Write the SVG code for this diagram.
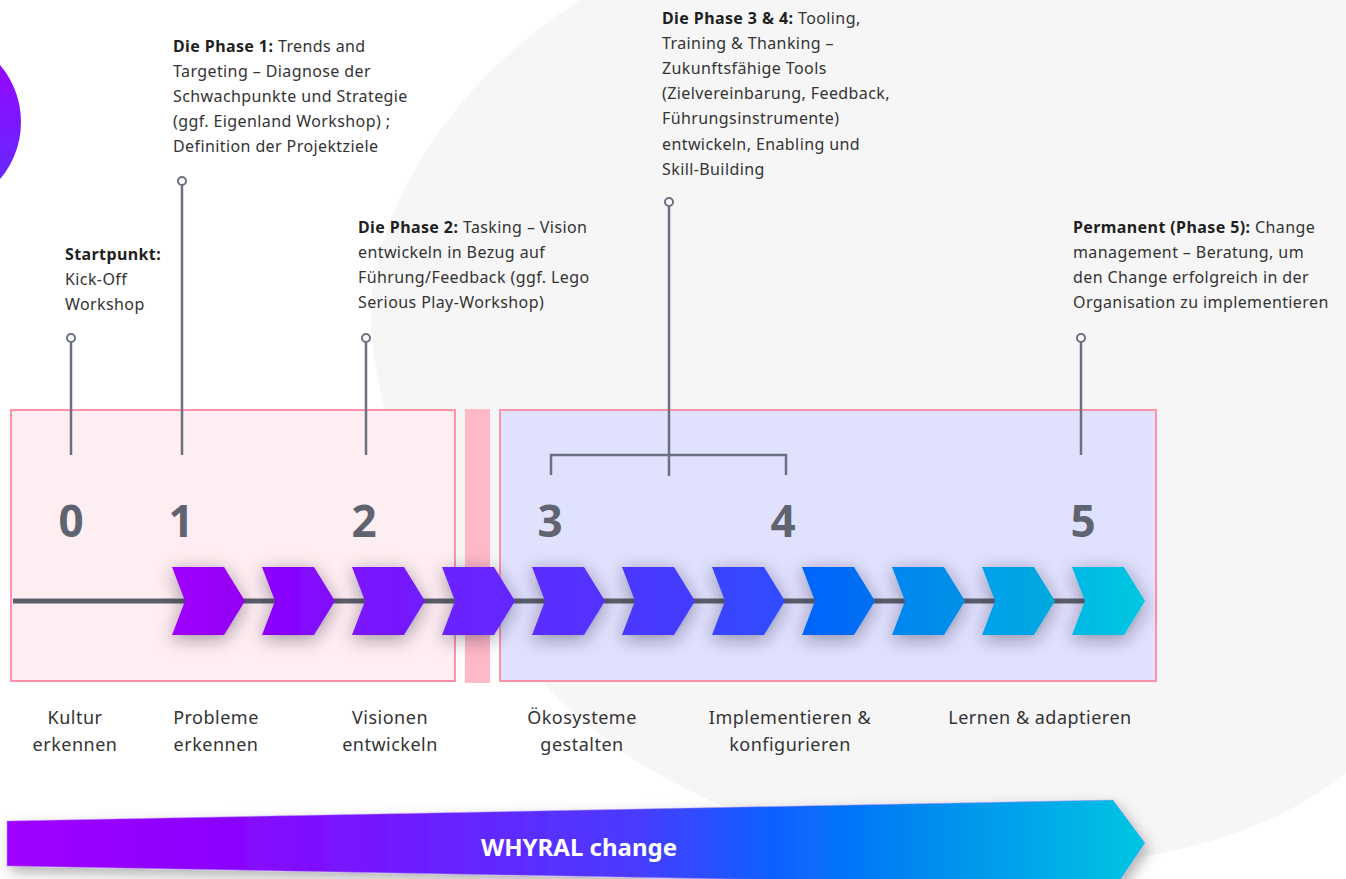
<svg xmlns="http://www.w3.org/2000/svg" width="1346" height="879" viewBox="0 0 1346 879">
<style>
  .t{font-family:"Noto Sans","Open Sans","Liberation Sans",sans-serif;font-size:16px;letter-spacing:0.4px;fill:#333333}
  .b{font-weight:bold;fill:#1f1f1f}
  .num{font-family:"Noto Sans","Open Sans","Liberation Sans",sans-serif;font-size:44px;font-weight:bold;fill:#5f6470;text-anchor:middle}
  .lab{font-family:"Noto Sans","Open Sans","Liberation Sans",sans-serif;font-size:18px;letter-spacing:0.5px;fill:#333333;text-anchor:middle}
  .conn{stroke:#6b7080;stroke-width:2.5;fill:none}
  .dot{stroke:#6b7080;stroke-width:2;fill:#ffffff}
</style>
<defs>
  <linearGradient id="gCircle" x1="0" y1="0" x2="0" y2="1">
    <stop offset="0" stop-color="#a000ff"/>
    <stop offset="1" stop-color="#5a30ff"/>
  </linearGradient>
  <linearGradient id="gArrow" x1="7" y1="0" x2="1145" y2="0" gradientUnits="userSpaceOnUse">
    <stop offset="0" stop-color="#a000ff"/>
    <stop offset="0.2" stop-color="#8a05ff"/>
    <stop offset="0.4" stop-color="#6624ff"/>
    <stop offset="0.55" stop-color="#4a3bff"/>
    <stop offset="0.68" stop-color="#0a62ff"/>
    <stop offset="0.8" stop-color="#0088f0"/>
    <stop offset="1" stop-color="#00c6e2"/>
  </linearGradient>
  <linearGradient id="c1"><stop offset="0" stop-color="#a000ff"/><stop offset="1" stop-color="#9200f2"/></linearGradient>
  <linearGradient id="c2"><stop offset="0" stop-color="#8c00ff"/><stop offset="1" stop-color="#800cfb"/></linearGradient>
  <linearGradient id="c3"><stop offset="0" stop-color="#7d12ff"/><stop offset="1" stop-color="#701cfb"/></linearGradient>
  <linearGradient id="c4"><stop offset="0" stop-color="#6c22ff"/><stop offset="1" stop-color="#6228ff"/></linearGradient>
  <linearGradient id="c5"><stop offset="0" stop-color="#5c2cff"/><stop offset="1" stop-color="#5232ff"/></linearGradient>
  <linearGradient id="c6"><stop offset="0" stop-color="#4c36ff"/><stop offset="1" stop-color="#423cff"/></linearGradient>
  <linearGradient id="c7"><stop offset="0" stop-color="#3a44ff"/><stop offset="1" stop-color="#304cff"/></linearGradient>
  <linearGradient id="c8"><stop offset="0" stop-color="#0064ff"/><stop offset="1" stop-color="#0070f0"/></linearGradient>
  <linearGradient id="c9"><stop offset="0" stop-color="#0086f2"/><stop offset="1" stop-color="#0090e6"/></linearGradient>
  <linearGradient id="c10"><stop offset="0" stop-color="#00a0ec"/><stop offset="1" stop-color="#00aadc"/></linearGradient>
  <linearGradient id="c11"><stop offset="0" stop-color="#00b8e6"/><stop offset="1" stop-color="#00c8e0"/></linearGradient>
  <filter id="shadow" x="-30%" y="-60%" width="160%" height="220%">
    <feGaussianBlur in="SourceAlpha" stdDeviation="9"/>
    <feOffset dx="0" dy="4" result="bl"/>
    <feFlood flood-color="#2a2040" flood-opacity="0.45"/>
    <feComposite in2="bl" operator="in"/>
    <feMerge><feMergeNode/><feMergeNode in="SourceGraphic"/></feMerge>
  </filter>
  <filter id="ashadow" x="-5%" y="-50%" width="110%" height="200%">
    <feGaussianBlur in="SourceAlpha" stdDeviation="7"/>
    <feOffset dx="4" dy="6" result="bl"/>
    <feFlood flood-color="#000000" flood-opacity="0.3"/>
    <feComposite in2="bl" operator="in"/>
    <feMerge><feMergeNode/><feMergeNode in="SourceGraphic"/></feMerge>
  </filter>
  <polygon id="chev" points="0,567 52,567 73,601 52,635 0,635 13,601"/>
</defs>

<rect x="0" y="0" width="1346" height="879" fill="#ffffff"/>
<g id="background">
  <path d="M 580 0 C 440 90, 360 230, 372 340 C 385 470, 470 640, 620 750 C 780 860, 1000 880, 1140 857 C 1230 843, 1300 810, 1346 773 L 1346 0 Z" fill="#f6f6f6"/>
  <circle cx="-67" cy="122" r="88" fill="url(#gCircle)"/>
</g>

<g id="phase-boxes">
  <rect id="box-left" x="11" y="410" width="444" height="271" fill="#ffeef1" stroke="#ff91a9" stroke-width="2"/>
  <rect id="divider" x="465" y="409" width="25" height="274" fill="#ffb8c6"/>
  <rect id="box-right" x="500" y="410" width="656" height="271" fill="#e0e1fd" stroke="#ff91a9" stroke-width="2"/>
</g>

<g id="connectors">
  <line class="conn" x1="71" y1="342" x2="71" y2="455"/>
  <circle class="dot" cx="71" cy="338" r="4"/>
  <line class="conn" x1="182" y1="185" x2="182" y2="455"/>
  <circle class="dot" cx="182" cy="181" r="4"/>
  <line class="conn" x1="366" y1="342" x2="366" y2="455"/>
  <circle class="dot" cx="366" cy="338" r="4"/>
  <line class="conn" x1="669" y1="206" x2="669" y2="476"/>
  <circle class="dot" cx="669" cy="202" r="4"/>
  <polyline class="conn" points="551,475 551,455 786,455 786,475"/>
  <line class="conn" x1="1081" y1="342" x2="1081" y2="455"/>
  <circle class="dot" cx="1081" cy="338" r="4"/>
</g>

<g id="numbers">
  <text class="num" x="71" y="537">0</text>
  <text class="num" x="181" y="537">1</text>
  <text class="num" x="364" y="537">2</text>
  <text class="num" x="550" y="537">3</text>
  <text class="num" x="783" y="537">4</text>
  <text class="num" x="1083" y="537">5</text>
</g>

<g id="timeline">
  <line x1="13" y1="601" x2="1085" y2="601" stroke="#5a5f6a" stroke-width="5"/>
  <g id="chevrons" filter="url(#shadow)">
    <use href="#chev" x="172" fill="url(#c1)"/>
    <use href="#chev" x="262" fill="url(#c2)"/>
    <use href="#chev" x="352" fill="url(#c3)"/>
    <use href="#chev" x="442" fill="url(#c4)"/>
    <use href="#chev" x="532" fill="url(#c5)"/>
    <use href="#chev" x="622" fill="url(#c6)"/>
    <use href="#chev" x="712" fill="url(#c7)"/>
    <use href="#chev" x="802" fill="url(#c8)"/>
    <use href="#chev" x="892" fill="url(#c9)"/>
    <use href="#chev" x="982" fill="url(#c10)"/>
    <use href="#chev" x="1072" fill="url(#c11)"/>
  </g>
</g>

<g id="note-start">
  <text class="t" x="65" y="260"><tspan class="b">Startpunkt:</tspan></text>
  <text class="t" x="65" y="285">Kick-Off</text>
  <text class="t" x="65" y="310">Workshop</text>
</g>
<g id="note-phase1">
  <text class="t" x="173" y="52"><tspan class="b">Die Phase 1:</tspan> Trends and</text>
  <text class="t" x="173" y="77">Targeting – Diagnose der</text>
  <text class="t" x="173" y="102">Schwachpunkte und Strategie</text>
  <text class="t" x="173" y="127">(ggf. Eigenland Workshop) ;</text>
  <text class="t" x="173" y="152">Definition der Projektziele</text>
</g>
<g id="note-phase2">
  <text class="t" x="358" y="233"><tspan class="b">Die Phase 2:</tspan> Tasking – Vision</text>
  <text class="t" x="358" y="258">entwickeln in Bezug auf</text>
  <text class="t" x="358" y="283">Führung/Feedback (ggf. Lego</text>
  <text class="t" x="358" y="308">Serious Play-Workshop)</text>
</g>
<g id="note-phase34">
  <text class="t" x="662" y="24"><tspan class="b">Die Phase 3 &amp; 4:</tspan> Tooling,</text>
  <text class="t" x="662" y="49">Training &amp; Thanking –</text>
  <text class="t" x="662" y="74">Zukunftsfähige Tools</text>
  <text class="t" x="662" y="99">(Zielvereinbarung, Feedback,</text>
  <text class="t" x="662" y="124">Führungsinstrumente)</text>
  <text class="t" x="662" y="150">entwickeln, Enabling und</text>
  <text class="t" x="662" y="175">Skill-Building</text>
</g>
<g id="note-phase5">
  <text class="t" x="1073" y="233"><tspan class="b">Permanent (Phase 5):</tspan> Change</text>
  <text class="t" x="1073" y="258">management – Beratung, um</text>
  <text class="t" x="1073" y="283">den Change erfolgreich in der</text>
  <text class="t" x="1073" y="308">Organisation zu implementieren</text>
</g>

<g id="labels">
  <text class="lab" x="75" y="724">Kultur</text>
  <text class="lab" x="75" y="751">erkennen</text>
  <text class="lab" x="216" y="724">Probleme</text>
  <text class="lab" x="216" y="751">erkennen</text>
  <text class="lab" x="390" y="724">Visionen</text>
  <text class="lab" x="390" y="751">entwickeln</text>
  <text class="lab" x="582" y="724">Ökosysteme</text>
  <text class="lab" x="582" y="751">gestalten</text>
  <text class="lab" x="790" y="724">Implementieren &amp;</text>
  <text class="lab" x="790" y="751">konfigurieren</text>
  <text class="lab" x="1040" y="724">Lernen &amp; adaptieren</text>
</g>

<g id="change-arrow">
  <polygon points="7,821 1113,800 1145,843 1116,886 7,866" fill="url(#gArrow)" stroke="#b890ff" stroke-opacity="0.5" stroke-width="1" filter="url(#ashadow)"/>
  <text x="579" y="856" font-family="Noto Sans, Open Sans, Liberation Sans, sans-serif" font-size="24" font-weight="bold" fill="#ffffff" text-anchor="middle">WHYRAL change</text>
</g>
</svg>
